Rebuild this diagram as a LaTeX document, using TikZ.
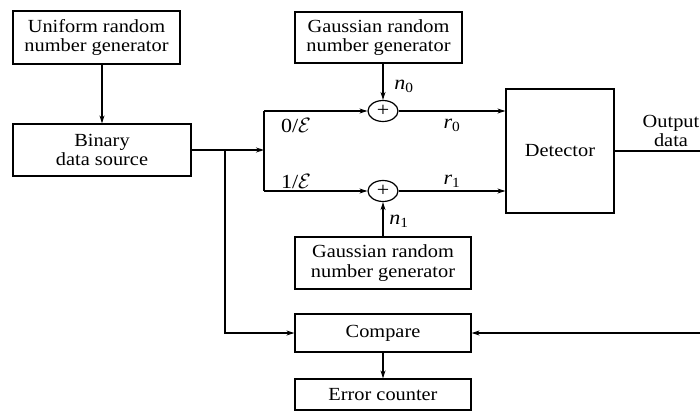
\documentclass[tikz,border=0pt]{standalone}
\usepackage{fontspec}
\setmainfont{Liberation Serif}[FakeStretch=1.1]
\usetikzlibrary{arrows.meta,shapes.geometric}
\begin{document}
\begin{tikzpicture}[x=1pt,y=-1pt,
  blk/.style={draw,line width=1.2pt,inner sep=0pt,align=center,font=\fontsize{18.5}{19.5}\selectfont},
  adder/.style={draw,ellipse,line width=1.2pt,minimum width=30pt,minimum height=21pt,inner sep=0pt,font=\fontsize{20}{20}\selectfont},
  conn/.style={line width=1.2pt,-{Stealth[length=8pt,width=5pt]}},
  wire/.style={line width=1.2pt},
  lbl/.style={font=\fontsize{20}{20}\selectfont,inner sep=0pt}]
\useasboundingbox (0,0) rectangle (700,417);
\node[blk,minimum width=167pt,minimum height=53pt] (unif) at (96.5,37.5) {Uniform random\\number generator};
\node[blk,minimum width=178pt,minimum height=52pt] (bin) at (102,150) {Binary\\data source};
\node[blk,minimum width=167pt,minimum height=51pt] (gtop) at (378.5,37.5) {Gaussian random\\number generator};
\node[adder] (add0) at (383,111) {\raisebox{-1pt}{+}};
\node[adder] (add1) at (383,191) {\raisebox{-1pt}{+}};
\node[blk,minimum width=108pt,minimum height=124pt] (det) at (560,151) {Detector};
\node[blk,minimum width=176pt,minimum height=52pt] (gbot) at (383,263) {Gaussian random\\number generator};
\node[blk,minimum width=176pt,minimum height=38pt] (cmp) at (383,333) {Compare};
\node[blk,minimum width=176pt,minimum height=31pt] (err) at (383,394.5) {Error counter};
\coordinate (split) at (264,150);
\coordinate (jn) at (225,150);
\coordinate (outR) at (700,151);
\coordinate (cmpR) at (700,333);
% connectors
\draw[conn] (bin.north |- unif.south) -- (bin.north);
\draw[conn] (bin.east) -- (split);
\draw[wire] (split |- add0) -- (split |- add1);
\draw[conn] (split |- add0) -- (add0.west);
\draw[conn] (split |- add1) -- (add1.west);
\draw[conn] (add0.east) -- (det.west |- add0);
\draw[conn] (add1.east) -- (det.west |- add1);
\draw[conn] (add0.north |- gtop.south) -- (add0.north);
\draw[conn] (gbot.north) -- (add1.south);
\draw[wire] (det.east) -- (outR);
\draw[conn] (jn) |- (cmp.west);
\draw[conn] (cmpR) -- (cmp.east);
\draw[conn] (cmp.south) -- (err.north);
% labels
\node[lbl] (l0) at (296,126) {0/$\mathcal{E}$};
\node[lbl] (l1) at (296,182) {1/$\mathcal{E}$};
\node[lbl] (r0) at (452,125) {\textit{r}\textsubscript{0}};
\node[lbl] (r1) at (452,181) {\textit{r}\textsubscript{1}};
\node[lbl] (n0) at (404,86) {\textit{n}\textsubscript{0}};
\node[lbl] (n1) at (399,221) {\textit{n}\textsubscript{1}};
\node[lbl,align=center,font=\fontsize{18.5}{18.5}\selectfont] (od) at (671,131) {Output\\data};
\end{tikzpicture}
\end{document}
